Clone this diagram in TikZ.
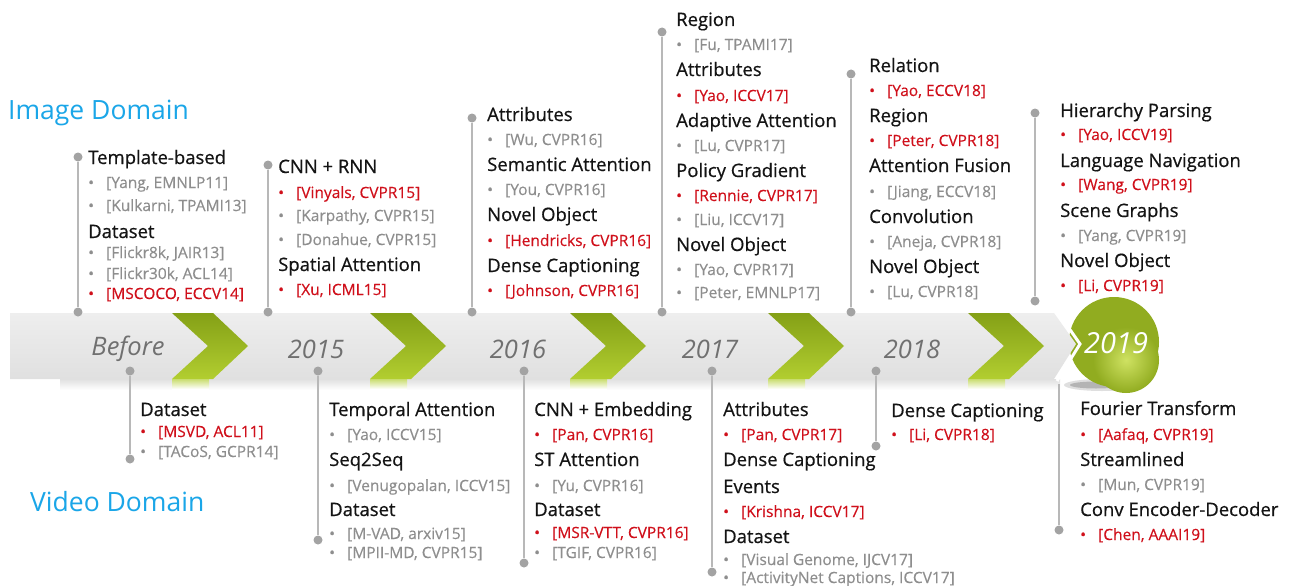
\documentclass[tikz,border=0pt]{standalone}
\usepackage{fontspec}
\setmainfont{Open Sans}
\newfontfamily\hdfont{Open Sans}[FakeBold=0.6]
\newfontfamily\rffont{Open Sans}[FakeBold=0.3]
\definecolor{headc}{HTML}{141414}
\definecolor{refgc}{HTML}{8E8E8E}
\definecolor{refrc}{HTML}{D0101B}
\definecolor{domc}{HTML}{1AA6E8}
\definecolor{yearc}{HTML}{707070}
\definecolor{linec}{HTML}{B8B8B8}
\definecolor{dotc}{HTML}{A3A3A3}
\definecolor{chevtop}{HTML}{84A016}
\definecolor{chevbot}{HTML}{B2CE30}
\definecolor{balldark}{HTML}{91AC20}
\definecolor{balllight}{HTML}{CFE262}
\definecolor{bandtop}{HTML}{EEEEEE}
\definecolor{bandmid}{HTML}{F8F8F8}
\definecolor{bandbot}{HTML}{E0E0E0}
\newcommand{\bl}{\makebox[18pt][l]{•}}
\tikzset{
  hd/.style={anchor=base west, inner sep=0pt, yshift=-6pt, text=headc, font=\hdfont\fontsize{18.5}{20}\selectfont},
  rg/.style={anchor=base west, inner sep=0pt, yshift=-5pt, text=refgc, font=\rffont\fontsize{15.5}{17}\selectfont},
  rr/.style={rg, text=refrc},
  dotn/.style={circle, fill=dotc, inner sep=0pt, minimum size=9pt},
  tline/.style={draw=linec, line width=2pt},
  yr/.style={inner sep=0pt, text=yearc, font=\fontsize{25.5}{27}\selectfont\itshape},
  dom/.style={anchor=west, inner sep=0pt, text=domc, font=\fontsize{26.5}{28}\selectfont},
}
\begin{document}
\begin{tikzpicture}[x=1pt,y=-1pt]
\useasboundingbox (0,0) rectangle (1290,586);
\fill[white] (0,0) rectangle (1290,586);

% shadow strip under band
\shade[top color=bandbot, bottom color=white] (60,379) rectangle (1060,390);
% circle shadow
\fill[black!50, opacity=0.25] (1102,385) ellipse (38 and 6);
\fill[black!60, opacity=0.35] (1096,385) ellipse (26 and 3.5);
% 2019 ball
\fill[balldark] (1114,342) circle (45);
\shade[inner color=balllight, outer color=balldark] (1126,360) circle (33);
% band
\shade[top color=bandtop, middle color=bandmid, bottom color=bandbot]
  (10,313) -- (1054,313) -- (1076,344) -- (1054,379) -- (10,379) -- cycle;
\draw[white, line width=3pt, line join=miter] (1057,311) -- (1080,344) -- (1057,381);

% chevrons
\foreach \X in {172,370,570,768,968}{
  \shade[top color=chevtop, bottom color=chevbot]
    (\X,313) -- (\X+41,313) -- (\X+76,346) -- (\X+41,379) -- (\X,379) -- (\X+36,346) -- cycle;
  \shade[top color=chevbot!70, bottom color=white] (\X,379) rectangle (\X+37,389);
}

% years
\node[yr] (yb) at (128,349) {Before};
\node[yr] (y15) at (316,349) {2015};
\node[yr] (y16) at (518,349) {2016};
\node[yr] (y17) at (710,349) {2017};
\node[yr] (y18) at (912,349) {2018};
\node[yr, text=white, font=\fontsize{29}{30}\selectfont\itshape] (y19) at (1116,343) {2019};

% domain labels
\node[dom] (imgdom) at (8,113) {Image Domain};
\node[dom] (viddom) at (30,502) {Video Domain};

% ---- top timeline lines and dots
\node[dotn] (ta1) at (78,157) {};   \node[dotn] (tb1) at (78,312) {};
\node[dotn] (ta2) at (268,165) {};  \node[dotn] (tb2) at (268,312) {};
\node[dotn] (ta3) at (472,118) {};  \node[dotn] (tb3) at (472,312) {};
\node[dotn] (ta4) at (662,32) {};   \node[dotn] (tb4) at (662,312) {};
\node[dotn] (ta5) at (851,74) {};   \node[dotn] (tb5) at (851,312) {};
\node[dotn] (ta6) at (1035,113) {}; \node[dotn] (tb6) at (1035,301) {};
\foreach \i in {1,...,6}{ \draw[tline] (ta\i) -- (tb\i); }

% ---- bottom timeline lines and dots
\node[dotn] (ba1) at (130,371) {};  \node[dotn] (bb1) at (130,459) {};
\node[dotn] (ba2) at (318,371) {};  \node[dotn] (bb2) at (318,540) {};
\node[dotn] (ba3) at (524,371) {};  \node[dotn] (bb3) at (524,563) {};
\node[dotn] (ba4) at (712,371) {};  \node[dotn] (bb4) at (712,572) {};
\node[dotn] (ba5) at (876,371) {};  \node[dotn] (bb5) at (876,446) {};
\coordinate (ba6) at (1059,384);    \node[dotn] (bb6) at (1059,530) {};
\foreach \i in {1,...,6}{ \draw[tline] (ba\i) -- (bb\i); }

% ---- Image domain columns
\node[hd] (c1h1) at (88,158) {Template-based};
\node[rg] (c1r1) at (88,183) {\bl[Yang, EMNLP11]};
\node[rg] (c1r2) at (88,206) {\bl[Kulkarni, TPAMI13]};
\node[hd] (c1h2) at (88,232) {Dataset};
\node[rg] (c1r3) at (88,253) {\bl[Flickr8k, JAIR13]};
\node[rg] (c1r4) at (88,274) {\bl[Flickr30k, ACL14]};
\node[rr] (c1r5) at (88,294) {\bl[MSCOCO, ECCV14]};

\node[hd] (c2h1) at (278,167) {CNN + RNN};
\node[rr] (c2r1) at (278,193) {\bl[Vinyals, CVPR15]};
\node[rg] (c2r2) at (278,216) {\bl[Karpathy, CVPR15]};
\node[rg] (c2r3) at (278,240) {\bl[Donahue, CVPR15]};
\node[hd] (c2h2) at (278,265) {Spatial Attention};
\node[rr] (c2r4) at (278,290) {\bl[Xu, ICML15]};

\node[hd] (c3h1) at (487,115) {Attributes};
\node[rg] (c3r1) at (487,140) {\bl[Wu, CVPR16]};
\node[hd] (c3h2) at (487,165) {Semantic Attention};
\node[rg] (c3r2) at (487,190) {\bl[You, CVPR16]};
\node[hd] (c3h3) at (487,215) {Novel Object};
\node[rr] (c3r3) at (487,241) {\bl[Hendricks, CVPR16]};
\node[hd] (c3h4) at (487,266) {Dense Captioning};
\node[rr] (c3r4) at (487,291) {\bl[Johnson, CVPR16]};

\node[hd] (c4h1) at (676,20) {Region};
\node[rg] (c4r1) at (676,45) {\bl[Fu, TPAMI17]};
\node[hd] (c4h2) at (676,70) {Attributes};
\node[rr] (c4r2) at (676,96) {\bl[Yao, ICCV17]};
\node[hd] (c4h3) at (676,121) {Adaptive Attention};
\node[rg] (c4r3) at (676,146) {\bl[Lu, CVPR17]};
\node[hd] (c4h4) at (676,171) {Policy Gradient};
\node[rr] (c4r4) at (676,196) {\bl[Rennie, CVPR17]};
\node[rg] (c4r5) at (676,220) {\bl[Liu, ICCV17]};
\node[hd] (c4h5) at (676,245) {Novel Object};
\node[rg] (c4r6) at (676,270) {\bl[Yao, CVPR17]};
\node[rg] (c4r7) at (676,293) {\bl[Peter, EMNLP17]};

\node[hd] (c5h1) at (869,66) {Relation};
\node[rr] (c5r1) at (869,91) {\bl[Yao, ECCV18]};
\node[hd] (c5h2) at (869,116) {Region};
\node[rr] (c5r2) at (869,141) {\bl[Peter, CVPR18]};
\node[hd] (c5h3) at (869,166) {Attention Fusion};
\node[rg] (c5r3) at (869,192) {\bl[Jiang, ECCV18]};
\node[hd] (c5h4) at (869,217) {Convolution};
\node[rg] (c5r4) at (869,242) {\bl[Aneja, CVPR18]};
\node[hd] (c5h5) at (869,267) {Novel Object};
\node[rg] (c5r5) at (869,292) {\bl[Lu, CVPR18]};

\node[hd] (c6h1) at (1060,111) {Hierarchy Parsing};
\node[rr] (c6r1) at (1060,135) {\bl[Yao, ICCV19]};
\node[hd] (c6h2) at (1060,161) {Language Navigation};
\node[rr] (c6r2) at (1060,185) {\bl[Wang, CVPR19]};
\node[hd] (c6h3) at (1060,211) {Scene Graphs};
\node[rg] (c6r3) at (1060,236) {\bl[Yang, CVPR19]};
\node[hd] (c6h4) at (1060,261) {Novel Object};
\node[rr] (c6r4) at (1060,286) {\bl[Li, CVPR19]};

% ---- Video domain columns
\node[hd] (v1h1) at (140,410) {Dataset};
\node[rr] (v1r1) at (140,432) {\bl[MSVD, ACL11]};
\node[rg] (v1r2) at (140,452) {\bl[TACoS, GCPR14]};

\node[hd] (v2h1) at (329,410) {Temporal Attention};
\node[rg] (v2r1) at (329,435) {\bl[Yao, ICCV15]};
\node[hd] (v2h2) at (329,460) {Seq2Seq};
\node[rg] (v2r2) at (329,486) {\bl[Venugopalan, ICCV15]};
\node[hd] (v2h3) at (329,510) {Dataset};
\node[rg] (v2r3) at (329,534) {\bl[M-VAD, arxiv15]};
\node[rg] (v2r4) at (329,553) {\bl[MPII-MD, CVPR15]};

\node[hd] (v3h1) at (534,410) {CNN + Embedding};
\node[rr] (v3r1) at (534,435) {\bl[Pan, CVPR16]};
\node[hd] (v3h2) at (534,460) {ST Attention};
\node[rg] (v3r2) at (534,486) {\bl[Yu, CVPR16]};
\node[hd] (v3h3) at (534,510) {Dataset};
\node[rr] (v3r3) at (534,533) {\bl[MSR-VTT, CVPR16]};
\node[rg] (v3r4) at (534,553) {\bl[TGIF, CVPR16]};

\node[hd] (v4h1) at (723,410) {Attributes};
\node[rr] (v4r1) at (723,435) {\bl[Pan, CVPR17]};
\node[hd] (v4h2) at (723,460) {Dense Captioning};
\node[hd] (v4h3) at (723,487) {Events};
\node[rr] (v4r2) at (723,512) {\bl[Krishna, ICCV17]};
\node[hd] (v4h4) at (723,537) {Dataset};
\node[rg] (v4r3) at (723,560) {\bl[Visual Genome, IJCV17]};
\node[rg] (v4r4) at (723,578) {\bl[ActivityNet Captions, ICCV17]};

\node[hd] (v5h1) at (891,411) {Dense Captioning};
\node[rr] (v5r1) at (891,435) {\bl[Li, CVPR18]};

\node[hd] (v6h1) at (1080,409) {Fourier Transform};
\node[rr] (v6r1) at (1080,435) {\bl[Aafaq, CVPR19]};
\node[hd] (v6h2) at (1080,460) {Streamlined};
\node[rg] (v6r2) at (1080,485) {\bl[Mun, CVPR19]};
\node[hd] (v6h3) at (1080,510) {Conv Encoder-Decoder};
\node[rr] (v6r3) at (1080,535) {\bl[Chen, AAAI19]};
\end{tikzpicture}
\end{document}
